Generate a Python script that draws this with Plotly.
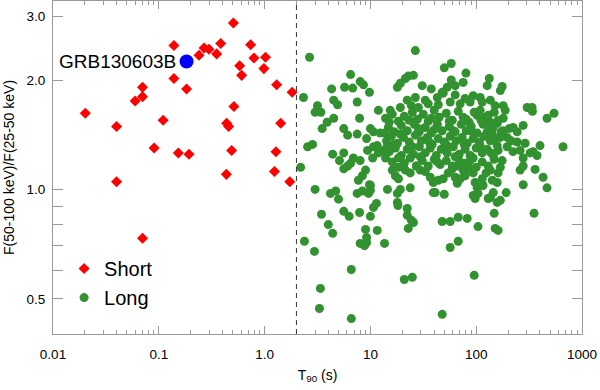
import math

import plotly.graph_objects as go

# short GRBs (T90 < 2 s)
short_t90 = [0.0202, 0.0399, 0.0399, 0.0598, 0.0702, 0.0702, 0.110, 0.0903, 0.139, 0.139,
             0.153, 0.183, 0.193, 0.240, 0.268, 0.298, 0.352, 0.385, 0.507, 0.581,
             0.607, 0.513, 0.438, 0.457, 0.488, 0.435, 0.738, 0.793, 1.02, 0.985,
             1.30, 1.42, 1.28, 1.24, 1.82, 1.73, 0.0702]
short_ratio = [1.62, 1.49, 1.05, 1.75, 1.80, 1.91, 1.55, 1.30, 2.49, 2.02,
               1.26, 1.89, 1.25, 2.34, 2.45, 2.43, 2.36, 2.52, 2.87, 2.19,
               2.06, 1.69, 1.52, 1.49, 1.28, 1.10, 2.50, 2.30, 2.31, 2.15,
               1.94, 1.52, 1.27, 1.12, 1.85, 1.05, 0.734]

# long GRBs (T90 > 2 s)
long_t90 = [
    2.66, 26.6, 49.9, 58.1, 80, 6.5, 8.0, 8.6, 9.8, 5.7, 6.8, 4.3, 18.0, 19.2, 21.4, 22.8,
    25.5, 30.9, 37.6, 47.7, 53.2, 58.1, 63.3, 75.3, 133, 127, 169, 176, 2.33, 7.5, 4.5, 4.9,
    3.16, 3.0, 3.4, 11.9, 15.4, 19.2, 22.3, 24.4, 28.4, 35.2, 42.9, 48.8, 56.8, 70.5, 87.6,
    93.6, 109, 114, 180, 188, 303, 337, 340, 467, 544, 7.9, 4.5, 3.9, 3.5, 5.6, 6.1, 7.5,
    10.0, 10.7, 12.4, 9.2, 2.55, 2.84, 4.4, 5.6, 5.1, 6.1, 5.6, 2.19, 6.9, 8.0, 9.4, 10.7,
    11.9, 13.3, 9.0, 8.4, 7.7, 3.0, 4.2, 4.7, 5.0, 7.5, 9.8, 9.6, 14.5, 18.0, 19.2, 23.8,
    16.1, 18.4, 21.4, 27.2, 33.0, 36.8, 39.3, 41.0, 43.8, 48.8, 49.9, 63.3, 66.2, 75.3, 78.6,
    93.6, 97.7, 102, 104, 114, 116, 136, 142, 158, 161, 169, 176, 192, 145, 136, 278, 360,
    429, 467, 278, 323, 345, 401, 376, 662, 244, 290, 260, 223, 278, 244, 223, 180, 196, 169,
    136, 158, 145, 122, 109, 102, 180,
    10.0, 39.3, 93.6, 97.7, 130, 158, 169,
    3.45, 5.6, 6.3, 7.9, 4.0, 4.4, 10.0, 10.7, 11.4, 9.0, 9.2, 8.0, 8.8, 9.2, 11.6, 13.6,
    18.0, 18.2, 22.3, 22.3, 24.4, 25.5, 22.8, 47.7, 56.8, 67.6, 82.2, 104, 148, 151, 161,
    67.6, 56.8, 352, 2.38, 2.96, 6.6, 20.9, 24.9, 95.7, 3.37, 3.30, 6.6, 47.7,
    278, 260, 6.5, 10.5, 11.6, 8.4, 10.0, 17.2, 18.4, 13.9, 14.5, 66.2, 59.4, 70.5,
    13.9, 16.1, 18.4, 20.9, 24.9, 27.8, 31.6, 35.2, 40.1, 44.7, 52.1, 59.4, 67.6, 75.3, 85.8,
    95.7, 130, 148, 161,
    14.8, 16.8, 19.6, 22.3, 26.0, 29.0, 33.0, 37.6, 42.9, 47.7, 55.6, 63.3, 72.1, 80.4, 89.6,
    102, 116, 127, 205,
    14.2, 15.8, 18.0, 20.5, 23.3, 26.6, 30.3, 34.5, 38.4, 43.8, 49.9, 56.8, 64.7, 73.7, 82.2,
    93.6, 107, 119, 136, 151, 214,
    15.1, 17.2, 19.6, 22.3, 25.5, 29.0, 33.0, 36.8, 41.9, 46.7, 53.2, 60.7, 69.0, 78.6, 87.6,
    100, 114, 127, 145, 161, 196,
    16.1, 20.9, 23.8, 27.2, 30.9, 35.2, 40.1, 45.7, 52.1, 59.4, 67.6, 76.9, 87.6, 100, 114,
    130, 148,
    26.6, 33.0, 63.3, 78.6, 136, 151, 43.8,
    15.1, 23.3, 37.6, 55.6, 80.4, 111, 138, 13.6, 19.2, 28.4, 40.1, 60.7, 91.6, 142, 172,
    16.8, 24.9, 36.0, 53.2, 76.9, 109, 158, 18.4, 29.6, 42.9, 63.3, 93.6, 138, 23.8, 29.6,
    54.4, 87.6, 124,
]
long_ratio = [
    2.31, 2.41, 2.16, 2.22, 2.09, 2.07, 1.98, 1.94, 1.85, 1.91, 1.90, 1.89, 1.91, 1.96, 2.02, 2.05,
    2.06, 1.93, 1.89, 1.85, 1.91, 2.00, 1.93, 1.97, 2.02, 1.93, 1.87, 1.92, 1.79, 1.74, 1.76, 1.71,
    1.70, 1.63, 1.63, 1.65, 1.65, 1.68, 1.76, 1.70, 1.68, 1.72, 1.79, 1.84, 1.74, 1.72, 1.74,
    1.81, 1.79, 1.74, 1.70, 1.65, 1.68, 1.68, 1.64, 1.57, 1.62, 1.57, 1.57, 1.53, 1.47, 1.47, 1.41, 1.42,
    1.47, 1.44, 1.43, 1.38, 1.31, 1.33, 1.25, 1.26, 1.20, 1.16, 1.14, 1.15, 1.22, 1.20, 1.28, 1.31,
    1.26, 1.28, 1.13, 1.09, 1.06, 1.00, 0.975, 0.99, 0.94, 0.975, 1.03, 0.975, 1.00, 0.975, 1.00, 1.01,
    1.13, 1.15, 1.13, 1.16, 1.12, 1.08, 1.045, 0.98, 1.06, 1.07, 0.97, 1.08, 1.04, 1.13, 1.09,
    1.11, 1.045, 1.01, 0.975, 1.07, 1.025, 1.13, 1.06, 1.045, 1.11, 1.15, 1.20, 0.98, 0.98, 0.95, 1.03, 1.135,
    1.08, 1.01, 1.22, 1.26, 1.27, 1.32, 1.24, 1.31, 1.35, 1.34, 1.28, 1.27, 1.50, 1.44, 1.48, 1.45, 1.39, 1.39,
    1.53, 1.52, 1.48, 1.58, 1.65, 1.60, 1.57,
    0.994, 0.98, 0.962, 0.944, 0.944, 0.921, 0.933,
    0.854, 0.87, 0.843, 0.864, 0.80, 0.757, 0.843, 0.892, 0.915, 0.776, 0.737, 0.71, 0.70, 0.714, 0.771, 0.71,
    0.921, 0.903, 0.886, 0.848, 0.822, 0.811, 0.781, 0.816, 0.816, 0.838, 0.832, 0.79, 0.859, 0.781, 0.771,
    0.72, 0.692, 0.859, 0.72, 0.675, 0.602, 0.565, 0.573, 0.58, 0.534, 0.47, 0.441, 0.453,
    1.16, 1.13, 1.18, 1.22, 1.32, 0.99, 1.025, 1.09, 1.07, 1.22, 1.32, 1.16, 1.14, 1.07,
    1.57, 1.61, 1.54, 1.59, 1.63, 1.56, 1.61, 1.54, 1.65, 1.58, 1.62, 1.55, 1.64, 1.58, 1.53,
    1.63, 1.60, 1.63, 1.55,
    1.48, 1.44, 1.50, 1.45, 1.51, 1.44, 1.48, 1.43, 1.51, 1.45, 1.49, 1.44, 1.51, 1.45, 1.49,
    1.43, 1.51, 1.44, 1.47,
    1.36, 1.40, 1.34, 1.39, 1.35, 1.41, 1.36, 1.39, 1.33, 1.38, 1.35, 1.40, 1.36, 1.39, 1.34,
    1.38, 1.35, 1.40, 1.36, 1.38, 1.36,
    1.27, 1.30, 1.24, 1.29, 1.25, 1.31, 1.26, 1.30, 1.24, 1.29, 1.26, 1.31, 1.25, 1.29, 1.24,
    1.30, 1.26, 1.29, 1.24, 1.28, 1.31,
    1.19, 1.18, 1.22, 1.16, 1.20, 1.16, 1.21, 1.17, 1.20, 1.16, 1.22, 1.18, 1.20, 1.15, 1.19,
    1.16, 1.21,
    1.79, 1.76, 1.82, 1.78, 1.76, 1.70, 1.71,
    1.53, 1.55, 1.57, 1.54, 1.56, 1.55, 1.48, 1.43, 1.42, 1.47, 1.46, 1.45, 1.44, 1.42, 1.44,
    1.33, 1.31, 1.35, 1.32, 1.33, 1.32, 1.32, 1.22, 1.23, 1.19, 1.23, 1.22, 1.26, 1.11, 1.13,
    1.11, 1.14, 1.11,
]

grb_name = ["GRB130603B"]
grb_t90 = [0.183]
grb_ratio = [2.25]

x_tickvals = [0.01, 0.1, 1, 10, 100, 1000]
x_ticktext = ["0.01", "0.1", "1.0", "10", "100", "1000"]
y_tickvals = [0.5, 1.0, 2.0, 3.0]
y_ticktext = ["0.5", "1.0", "2.0", "3.0"]
y_minor_vals = [0.6, 0.7, 0.8, 0.9]
t90_split = 2.0

FONT = "Liberation Sans, Arial, Helvetica, sans-serif"
AXIS_GREY = "#9a9a9a"

fig = go.Figure()
fig.add_trace(go.Scatter(x=short_t90, y=short_ratio, mode="markers", name="Short",
                         marker=dict(symbol="diamond", size=8.5, color="#ff0000")))
fig.add_trace(go.Scatter(x=long_t90, y=long_ratio, mode="markers", name="Long",
                         marker=dict(symbol="circle", size=9, color="#31922f")))
fig.add_trace(go.Scatter(x=grb_t90, y=grb_ratio, mode="markers", showlegend=False,
                         marker=dict(symbol="circle", size=14, color="#0000ff")))

fig.add_shape(type="line", xref="x", yref="paper", x0=t90_split, x1=t90_split, y0=0, y1=1,
              line=dict(color="#333333", width=1, dash="5px,4px"))

# annotations on log axes take log10 positions
fig.add_annotation(x=math.log10(grb_t90[0]), y=math.log10(grb_ratio[0]), text=grb_name[0],
                   showarrow=False, xanchor="right", xshift=-9,
                   font=dict(size=19, color="black", family=FONT))

minor_x = [m * 10.0 ** e for e in range(-2, 3) for m in range(2, 10)]

fig.update_xaxes(
    type="log", range=[-2, 3], tickvals=x_tickvals, ticktext=x_ticktext,
    ticks="inside", ticklen=8, tickcolor=AXIS_GREY, showline=True, linecolor=AXIS_GREY,
    mirror="ticks", showgrid=False, zeroline=False, ticklabelstandoff=8,
    tickfont=dict(size=13.5, color="black", family=FONT),
    minor=dict(tickvals=minor_x, ticks="inside", ticklen=4, tickcolor=AXIS_GREY, showgrid=False),
    title=dict(text="T<sub>90</sub> (s)", font=dict(size=14, color="black", family=FONT), standoff=8),
    automargin=False,
)
fig.update_yaxes(
    type="log", range=[-0.398, 0.5185], tickvals=y_tickvals, ticktext=y_ticktext,
    ticks="inside", ticklen=10, tickcolor=AXIS_GREY, showline=True, linecolor=AXIS_GREY,
    mirror="ticks", showgrid=False, zeroline=False, ticklabelstandoff=4,
    tickfont=dict(size=13.5, color="black", family=FONT),
    minor=dict(tickvals=y_minor_vals, ticks="inside", ticklen=10, tickcolor=AXIS_GREY, showgrid=False),
    title=dict(text="F(50-100 keV)/F(25-50 keV)", font=dict(size=14, color="black", family=FONT),
               standoff=8),
    automargin=False,
)

fig.update_layout(
    width=600, height=390, autosize=False,
    margin=dict(l=53, r=18, t=1, b=56),
    paper_bgcolor="white", plot_bgcolor="white",
    font=dict(family=FONT, color="black"),
    legend=dict(x=0.021, y=0.255, xanchor="left", yanchor="top", bgcolor="rgba(0,0,0,0)",
                font=dict(size=20, family=FONT), tracegroupgap=0),
)

fig.write_html("out.html", config={"displayModeBar": False},
               post_script="document.body.style.margin='0';")
